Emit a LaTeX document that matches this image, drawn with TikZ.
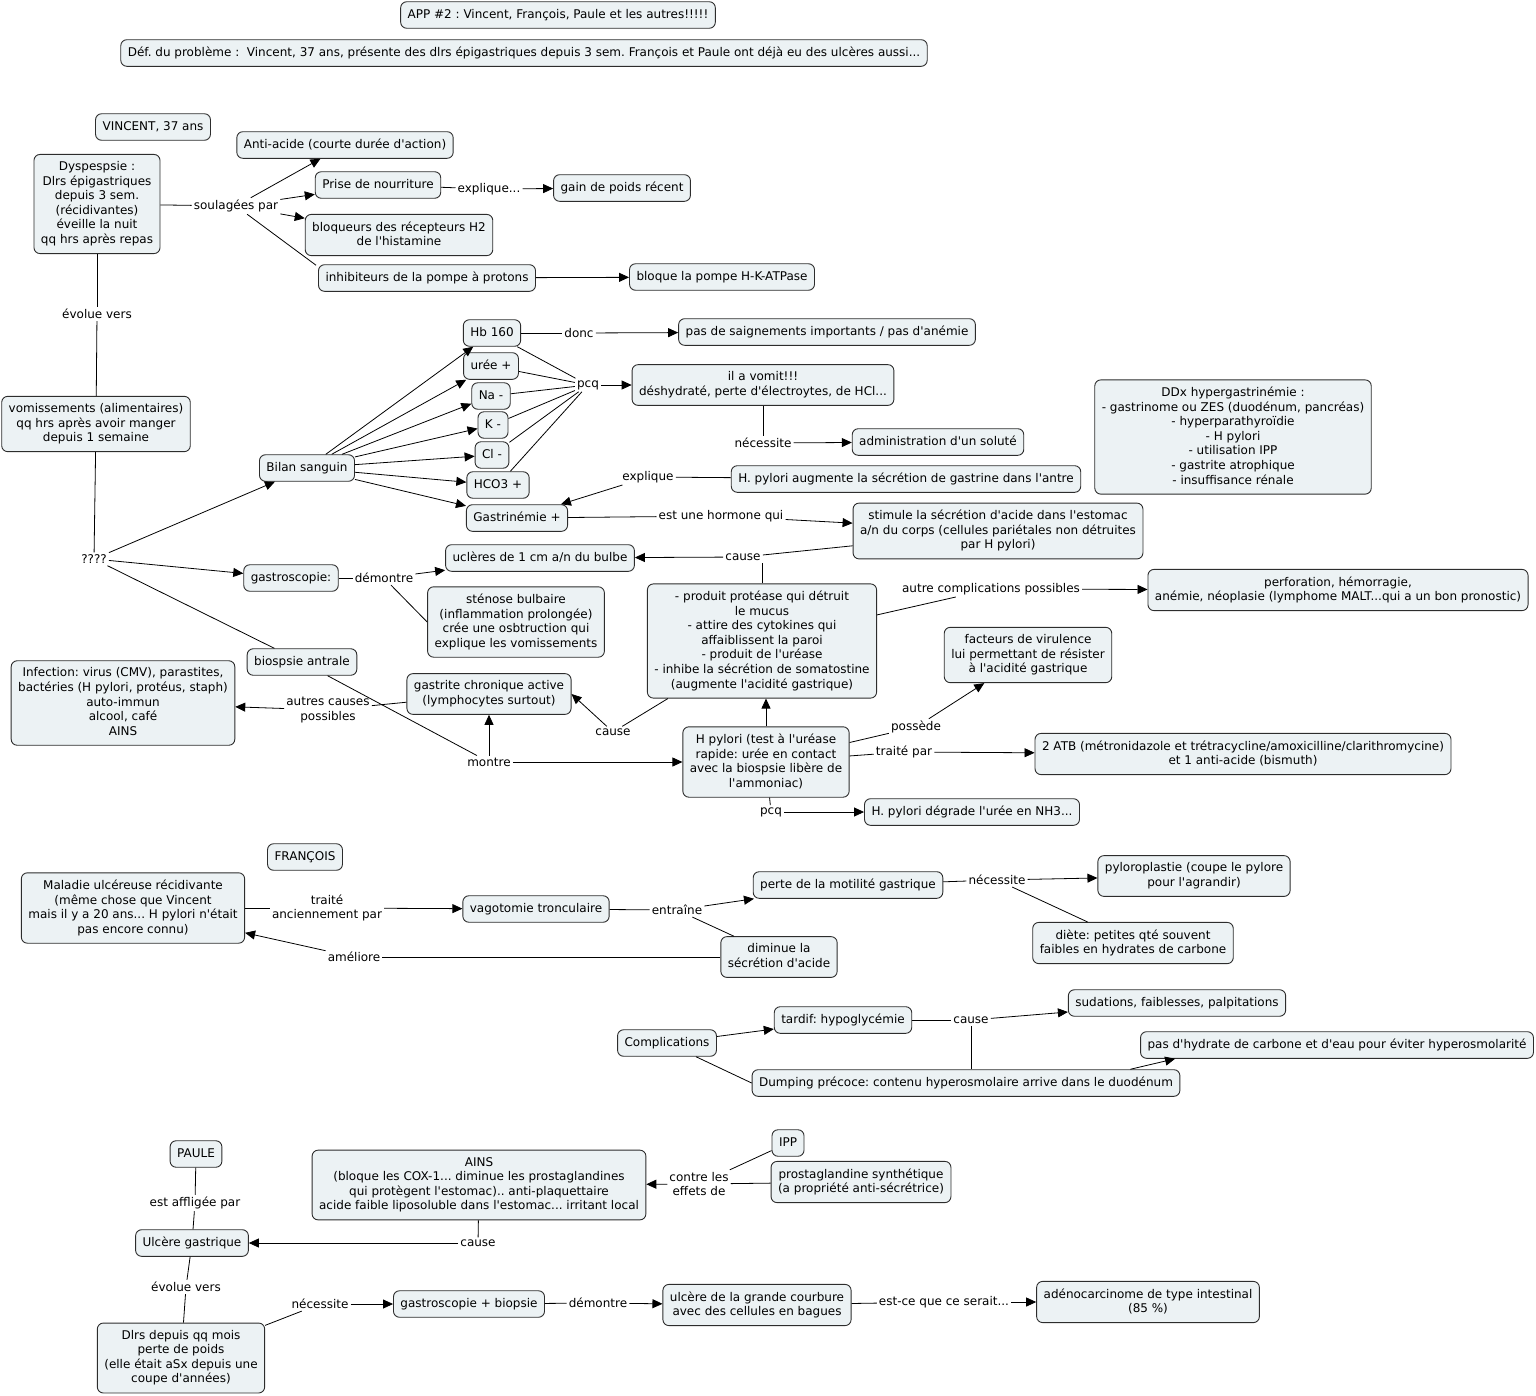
\documentclass[tikz,border=0pt]{standalone}
\usepackage{fontspec}
\setmainfont{DejaVu Sans}[Ligatures=TeXOff]
\usetikzlibrary{arrows.meta}
\definecolor{boxfill}{RGB}{236,242,244}
\definecolor{boxline}{RGB}{45,45,45}
\newcommand{\mystrut}{\rule[-3pt]{0pt}{12.5pt}}
\frenchspacing
\begin{document}
\begin{tikzpicture}[x=1pt,y=-1pt,
  font=\fontsize{12}{14.6}\selectfont,
  concept/.style={draw=boxline, fill=boxfill, rounded corners=6pt, align=center,
     inner xsep=7pt, inner ysep=7pt, line width=0.9pt,
     execute at begin node=\mystrut, execute at end node=\mystrut},
  lbl/.style={align=center, inner sep=2pt},
  lnk/.style={draw=black, line width=0.8pt},
  arr/.style={lnk, -{Triangle[length=10pt,width=9pt]}}]
\useasboundingbox (0,0) rectangle (1536,1395);

% ---------- header
\node[concept] (title) at (558,15) {APP \#2 : Vincent, François, Paule et les autres!!!!!};
\node[concept] (defp) at (524,53) {Déf. du problème :\ \ Vincent, 37 ans, présente des dlrs épigastriques depuis 3 sem. François et Paule ont déjà eu des ulcères aussi...};

% ---------- VINCENT
\node[concept] (vincent) at (153,127) {VINCENT, 37 ans};
\node[concept] (dysp) at (97,204) {Dyspespsie :\\Dlrs épigastriques\\depuis 3 sem.\\(récidivantes)\\éveille la nuit\\qq hrs après repas};
\node[lbl] (soul) at (236,206) {soulagées par};
\node[concept] (antiacide) at (345,145) {Anti-acide (courte durée d'action)};
\node[concept] (prise) at (378,185) {Prise de nourriture};
\node[lbl] (expl1) at (489,189) {explique...};
\node[concept] (gain) at (622,188) {gain de poids récent};
\node[concept] (bloq) at (399,235) {bloqueurs des récepteurs H2\\de l'histamine};
\node[concept] (inhib) at (427,278) {inhibiteurs de la pompe à protons};
\node[concept] (bloque) at (722,277) {bloque la pompe H-K-ATPase};

\node[lbl] (evol1) at (97,314) {évolue vers};
\node[concept] (vomi) at (96,424) {vomissements (alimentaires)\\qq hrs après avoir manger\\depuis 1 semaine};
\node[lbl] (qqq) at (94,559) {????};

\node[concept] (bilan) at (307,468) {Bilan sanguin};
\node[concept] (hb) at (492,333) {Hb 160};
\node[concept] (uree) at (491,366) {urée +};
\node[concept] (na) at (491,396) {Na -};
\node[concept] (k) at (493,425) {K -};
\node[concept] (cl) at (492,455) {Cl -};
\node[concept] (hco) at (498,485) {HCO3 +};
\node[concept] (gastrin) at (517,518) {Gastrinémie +};

\node[lbl] (donc) at (579,333) {donc};
\node[concept] (saign) at (827,332) {pas de saignements importants / pas d'anémie};
\node[lbl] (pcq1) at (588,385) {pcq};
\node[concept] (vomit) at (763,385) {il a vomit!!!\\déshydraté, perte d'électroytes, de HCl...};
\node[lbl] (nec1) at (763,443) {nécessite};
\node[concept] (solute) at (938,442) {administration d'un soluté};
\node[concept] (hpga) at (906,479) {H. pylori augmente la sécrétion de gastrine dans l'antre};
\node[lbl] (expl2) at (648,477) {explique};
\node[lbl] (hormone) at (721,516) {est une hormone qui};
\node[concept] (stimule) at (998,531) {stimule la sécrétion d'acide dans l'estomac\\a/n du corps (cellules pariétales non détruites\\par H pylori)};
\node[lbl] (cause1) at (743,557) {cause};
\node[concept] (ulc) at (540,558) {uclères de 1 cm a/n du bulbe};

\node[concept] (ddx) at (1233,437) {DDx hypergastrinémie :\\- gastrinome ou ZES (duodénum, pancréas)\\- hyperparathyroïdie\\- H pylori\\- utilisation IPP\\- gastrite atrophique\\- insuffisance rénale};

\node[concept] (gastro) at (291,578) {gastroscopie:};
\node[lbl] (demo1) at (384,578) {démontre};
\node[concept] (stenose) at (516,622) {sténose bulbaire\\(inflammation prolongée)\\crée une osbtruction qui\\explique les vomissements};

\node[concept] (biopsie) at (302,662) {biospsie antrale};
\node[lbl] (montre) at (489,762) {montre};
\node[concept] (gastrite) at (489,694) {gastrite chronique active\\(lymphocytes surtout)};
\node[lbl] (autres) at (328,710) {autres causes\\possibles};
\node[concept] (infect) at (123,703) {Infection: virus (CMV), parastites,\\bactéries (H pylori, protéus, staph)\\auto-immun\\alcool, café\\AINS};

\node[concept] (hpylori) at (766,762) {H pylori (test à l'uréase\\rapide: urée en contact\\avec la biospsie libère de\\l'ammoniac)};
\node[concept] (produit) at (762,641) {- produit protéase qui détruit\\le mucus\\- attire des cytokines qui\\affaiblissent la paroi\\- produit de l'uréase\\- inhibe la sécrétion de somatostine\\(augmente l'acidité gastrique)};
\node[lbl] (cause2) at (613,732) {cause};
\node[lbl] (autrecomp) at (991,589) {autre complications possibles};
\node[concept] (perfo) at (1338,590) {perforation, hémorragie,\\anémie, néoplasie (lymphome MALT...qui a un bon pronostic)};
\node[lbl] (possede) at (916,727) {possède};
\node[concept] (facteurs) at (1028,655) {facteurs de virulence\\lui permettant de résister\\à l'acidité gastrique};
\node[lbl] (traite) at (904,752) {traité par};
\node[concept] (atb) at (1243,754) {2 ATB (métronidazole et trétracycline/amoxicilline/clarithromycine)\\et 1 anti-acide (bismuth)};
\node[lbl] (pcq2) at (771,812) {pcq};
\node[concept] (degrade) at (972,812) {H. pylori dégrade l'urée en NH3...};

% ---------- FRANCOIS
\node[concept] (francois) at (305,857) {FRANÇOIS};
\node[concept] (maladie) at (133,908) {Maladie ulcéreuse récidivante\\(même chose que Vincent\\mais il y a 20 ans... H pylori n'était\\pas encore connu)};
\node[lbl] (traitean) at (327,908) {traité\\anciennement par};
\node[concept] (vago) at (536,909) {vagotomie tronculaire};
\node[lbl] (entraine) at (677,910) {entraîne};
\node[concept] (perte) at (848,885) {perte de la motilité gastrique};
\node[concept] (diminue) at (779,957) {diminue la\\sécrétion d'acide};
\node[lbl] (ameliore) at (354,957) {améliore};
\node[lbl] (nec2) at (997,880) {nécessite};
\node[concept] (pyloro) at (1194,876) {pyloroplastie (coupe le pylore\\pour l'agrandir)};
\node[concept] (diete) at (1133,943) {diète: petites qté souvent\\faibles en hydrates de carbone};

\node[concept] (compl) at (667,1043) {Complications};
\node[concept] (tardif) at (843,1020) {tardif: hypoglycémie};
\node[concept] (dumping) at (966,1083) {Dumping précoce: contenu hyperosmolaire arrive dans le duodénum};
\node[lbl] (cause3) at (971,1020) {cause};
\node[concept] (sudations) at (1177,1003) {sudations, faiblesses, palpitations};
\node[concept] (pasdh) at (1337,1045) {pas d'hydrate de carbone et d'eau pour éviter hyperosmolarité};

% ---------- PAULE
\node[concept] (paule) at (196,1154) {PAULE};
\node[lbl] (affligee) at (195,1203) {est affligée par};
\node[concept] (ulcg) at (192,1243) {Ulcère gastrique};
\node[lbl] (evol2) at (186,1287) {évolue vers};
\node[concept] (dlrs) at (181,1358) {Dlrs depuis qq mois\\perte de poids\\(elle était aSx depuis une\\coupe d'années)};
\node[lbl] (nec3) at (320,1304) {nécessite};
\node[concept] (gastrobio) at (469,1304) {gastroscopie + biopsie};
\node[lbl] (demo2) at (598,1303) {démontre};
\node[concept] (courbure) at (757,1305) {ulcère de la grande courbure\\avec des cellules en bagues};
\node[lbl] (serait) at (944,1302) {est-ce que ce serait...};
\node[concept] (adeno) at (1148,1302) {adénocarcinome de type intestinal\\(85 \%)};
\node[concept] (ains) at (479,1185) {AINS\\(bloque les COX-1... diminue les prostaglandines\\qui protègent l'estomac).. anti-plaquettaire\\acide faible liposoluble dans l'estomac... irritant local};
\node[lbl] (cause4) at (478,1243) {cause};
\node[concept] (ipp) at (788,1143) {IPP};
\node[concept] (prosta) at (861,1182) {prostaglandine synthétique\\(a propriété anti-sécrétrice)};
\node[lbl] (contre) at (699,1184) {contre les\\effets de};

% ---------- connectors
\draw[lnk] (dysp) -- (soul);
\draw[arr] (soul) -- (antiacide);
\draw[arr] (soul) -- (prise);
\draw[arr] (soul) -- (bloq);
\draw[lnk] (soul) -- ([xshift=-2pt,yshift=-1pt]inhib.north west);
\draw[lnk] (prise) -- (expl1);
\draw[arr] (expl1) -- (gain);
\draw[arr] (inhib) -- (bloque);

\draw[lnk] (dysp) -- (evol1);
\draw[lnk] (evol1) -- (vomi);
\draw[lnk] (vomi) -- (qqq);
\draw[arr] (qqq) -- (bilan);
\draw[arr] (qqq) -- (gastro);
\draw[lnk] (qqq) -- (biopsie);

\foreach \t in {hb,uree,na,k,cl,hco,gastrin} \draw[arr] (bilan) -- (\t);
\draw[lnk] (hb) -- (donc);
\draw[arr] (donc) -- (saign);
\foreach \t in {hb,uree,na,k,cl,hco} \draw[lnk] (\t) -- (pcq1);
\draw[arr] (pcq1) -- (vomit);
\draw[lnk] (vomit) -- (nec1);
\draw[arr] (nec1) -- (solute);
\draw[lnk] (hpga) -- (expl2);
\draw[arr] (expl2) -- (gastrin);
\draw[lnk] (gastrin) -- (hormone);
\draw[arr] (hormone) -- (stimule);
\draw[lnk] (stimule) -- (cause1);
\draw[lnk] (produit.north) -- (produit.north |- cause1.south);
\draw[arr] (cause1) -- (ulc);

\draw[lnk] (gastro) -- (demo1);
\draw[arr] (demo1) -- (ulc);
\draw[lnk] (demo1) -- (stenose.west);

\draw[lnk] (biopsie) -- (montre);
\draw[arr] (montre) -- (gastrite);
\draw[arr] (montre) -- (hpylori);
\draw[lnk] (gastrite) -- (autres);
\draw[arr] (autres) -- (infect);
\draw[arr] (hpylori.north) -- (hpylori.north |- produit.south);
\draw[lnk] (produit) -- (cause2);
\draw[arr] (cause2) -- (gastrite.east);
\draw[lnk] (produit) -- (autrecomp);
\draw[arr] (autrecomp) -- (perfo);
\draw[lnk] (hpylori) -- (possede);
\draw[arr] (possede) -- (facteurs);
\draw[lnk] (hpylori) -- (traite);
\draw[arr] (traite) -- (atb);
\draw[lnk] (hpylori) -- (pcq2);
\draw[arr] (pcq2) -- (degrade);

\draw[lnk] (maladie) -- (traitean);
\draw[arr] (traitean) -- (vago);
\draw[lnk] (vago) -- (entraine);
\draw[arr] (entraine) -- (perte);
\draw[lnk] (entraine) -- (diminue);
\draw[lnk] (diminue) -- (ameliore);
\draw[arr] (ameliore) -- (maladie);
\draw[lnk] (perte) -- (nec2);
\draw[arr] (nec2) -- (pyloro);
\draw[lnk] (nec2) -- (diete);

\draw[arr] (compl) -- (tardif);
\draw[lnk] (compl) -- (dumping.west);
\draw[lnk] (tardif) -- (cause3);
\draw[lnk] (dumping.north -| cause3) -- (cause3.south);
\draw[arr] (cause3) -- (sudations);
\draw[arr] ([xshift=-50pt]dumping.north east) -- ([xshift=35pt]pasdh.south west);

\draw[lnk] (paule) -- (affligee);
\draw[lnk] (affligee) -- (ulcg);
\draw[lnk] (ulcg) -- (evol2);
\draw[lnk] (evol2) -- (dlrs);
\draw[lnk] (dlrs) -- (nec3);
\draw[arr] (nec3) -- (gastrobio);
\draw[lnk] (gastrobio) -- (demo2);
\draw[arr] (demo2) -- (courbure);
\draw[lnk] (courbure) -- (serait);
\draw[arr] (serait) -- (adeno);
\draw[lnk] (ains) -- (cause4);
\draw[arr] (cause4) -- (ulcg);
\draw[lnk] (ipp) -- (contre);
\draw[lnk] (prosta) -- (contre);
\draw[arr] (contre) -- (ains);
\end{tikzpicture}
\end{document}
